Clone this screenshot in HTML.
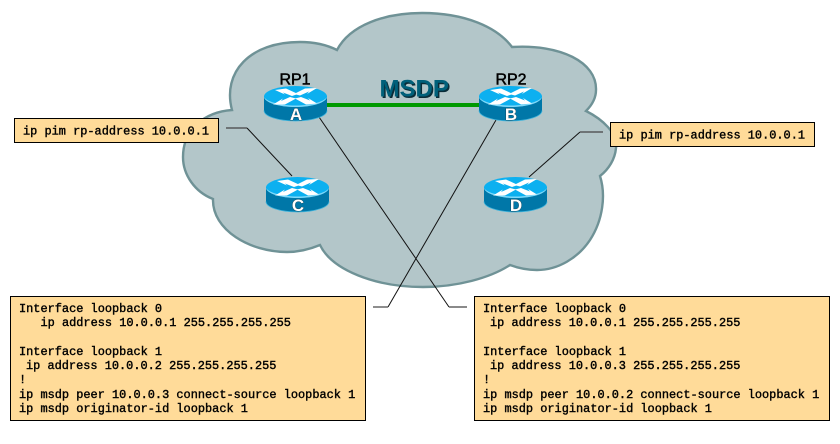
<!DOCTYPE html>
<html><head><meta charset="utf-8">
<style>
html,body{margin:0;padding:0;background:#fff;}
svg{display:block;}
.m{font-family:"Liberation Mono",monospace;font-size:11.93px;fill:#000;stroke:#000;stroke-width:.4px;white-space:pre;}
.s{font-family:"Liberation Sans",sans-serif;}
</style></head><body>
<svg width="840" height="444" viewBox="0 0 840 444" xmlns="http://www.w3.org/2000/svg">
<defs>
<g id="r">
<path d="M0 10.5V24.5C0 30.3 14 35 31.5 35S63 30.3 63 24.5V10.5Z" fill="#0077a8"/>
<path d="M0 24.5C0 30.3 14 35 31.5 35S63 30.3 63 24.5" fill="none" stroke="#3fb4dc" stroke-width=".8"/>
<ellipse cx="31.5" cy="10.5" rx="31.5" ry="10.5" fill="#0cb0f0"/>
<path d="M0 11C1 16.5 14 21 31.5 21S62 16.5 63 11C60 16 46 19.5 31.5 19.5S3 16 0 11Z" fill="#7fd8f8"/>
<g fill="#fff">
<path d="M11 4L22 2.5L34 8L28 10L19 6.5L21 8.5Z"/>
<path d="M53 2L41 2.5L30 8L36 9.5L45 5.5L43 8Z"/>
<path d="M9 18.5L21 18.5L32 12.5L26 11L17 15L19 12.5Z"/>
<path d="M53 17.5L42 18.5L31 12.5L37 11L46 14.5L44 12Z"/>
</g>
</g>
</defs>

<path d="M232 110C222 72 250 42 300 42C315 42 327 45 337 50C350 25 385 13 422 13C465 13 497 27 512 47C560 44 597 62 596 90C596 98 592 105 586 111C602 119 618 133 616 148C615 159 609 169 600 176C606 195 603 220 590 240C578 258 558 270 537 270C527 270 518 268 510 265C490 278 457 287 423 287C375 287 332 270 320 245C308 250 298 252 287 252C250 252 212 230 213 199C195 192 183 175 183 157C183 130 204 112 232 110Z" fill="#b3c6c9" stroke="#6f9296" stroke-width="2.4" stroke-linejoin="miter"/>

<rect x="326" y="103" width="154" height="4" fill="#009900"/>

<g fill="none" stroke="#111" stroke-width="1">
<path d="M247 128L292 176"/>
<path d="M319 117L449 307"/>
<path d="M496 120L388 307"/>
<path d="M529 177L580 132"/>
</g>
<g fill="none" stroke="#444" stroke-width="1.2">
<path d="M226 128H247"/>
<path d="M580 132H603"/>
<path d="M373 307H388"/>
<path d="M449 307H467"/>
</g>

<use href="#r" x="264" y="86"/>
<use href="#r" x="479" y="86"/>
<use href="#r" x="266" y="177"/>
<use href="#r" x="484" y="177"/>

<g class="s" font-size="17" font-weight="bold" text-anchor="middle" fill="#fff" stroke="#222" stroke-width=".5" paint-order="stroke">
<text x="296" y="120">A</text>
<text x="511" y="120">B</text>
<text x="298" y="211">C</text>
<text x="516" y="211">D</text>
</g>
<g class="s" font-size="16" text-anchor="middle" fill="#000" stroke="#000" stroke-width=".5">
<text x="295" y="84.5">RP1</text>
<text x="511" y="84.5">RP2</text>
</g>
<g class="s" font-size="24" font-weight="bold">
<text x="381" y="98" fill="#0a2c38">MSDP</text>
<text x="379.5" y="96.5" fill="#00607a">MSDP</text>
</g>

<g fill="#ffdb99" stroke="#000" stroke-width="1">
<rect x="14.5" y="118.5" width="204" height="24"/>
<rect x="610.5" y="122.5" width="204" height="24"/>
<rect x="10.5" y="296.5" width="355" height="124"/>
<rect x="474.5" y="296.5" width="355" height="124"/>
</g>

<text class="m" x="23" y="134.5" xml:space="preserve">ip pim rp-address 10.0.0.1</text>
<text class="m" x="619" y="138.5" xml:space="preserve">ip pim rp-address 10.0.0.1</text>

<g class="m">
<text x="19" y="312">Interface loopback 0</text>
<text x="40.5" y="326">ip address 10.0.0.1 255.255.255.255</text>
<text x="19" y="355">Interface loopback 1</text>
<text x="26" y="369">ip address 10.0.0.2 255.255.255.255</text>
<text x="19" y="383">!</text>
<text x="19" y="398">ip msdp peer 10.0.0.3 connect-source loopback 1</text>
<text x="19" y="412">ip msdp originator-id loopback 1</text>

<text x="483" y="312">Interface loopback 0</text>
<text x="490" y="326">ip address 10.0.0.1 255.255.255.255</text>
<text x="483" y="355">Interface loopback 1</text>
<text x="490" y="369">ip address 10.0.0.3 255.255.255.255</text>
<text x="483" y="383">!</text>
<text x="483" y="398">ip msdp peer 10.0.0.2 connect-source loopback 1</text>
<text x="483" y="412">ip msdp originator-id loopback 1</text>
</g>
</svg>
</body></html>
